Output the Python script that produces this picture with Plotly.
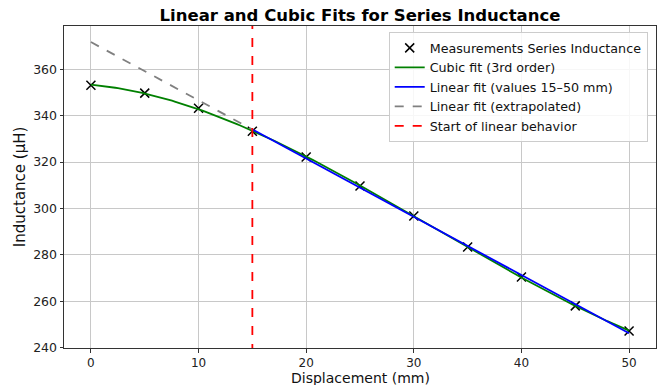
import numpy as np
import plotly.graph_objects as go

displacement = [0, 5, 10, 15, 20, 25, 30, 35, 40, 45, 50]
inductance = [353.1, 349.7, 343.2, 333.3, 322.2, 309.7, 296.8, 283.4, 270.5, 258.1, 247.3]
linear_start = 15

x = np.array(displacement, dtype=float)
y = np.array(inductance, dtype=float)

# cubic fit over all points
c3 = np.polyfit(x, y, 3)
xc = np.linspace(x.min(), x.max(), 200)
yc = np.polyval(c3, xc)

# linear fit on 15-50 mm
mask = x >= linear_start
c1 = np.polyfit(x[mask], y[mask], 1)
xl = np.linspace(linear_start, x.max(), 50)
yl = np.polyval(c1, xl)
xe = np.linspace(0, linear_start, 20)
ye = np.polyval(c1, xe)

font = "DejaVu Sans"
fig = go.Figure()
fig.add_trace(go.Scatter(x=displacement, y=inductance, mode="markers",
                         name="Measurements Series Inductance",
                         marker=dict(symbol="x-thin", size=9, color="black",
                                     line=dict(width=1.5, color="black"))))
fig.add_trace(go.Scatter(x=xc, y=yc, mode="lines", name="Cubic fit (3rd order)",
                         line=dict(color="green", width=1.8)))
fig.add_trace(go.Scatter(x=xl, y=yl, mode="lines", name="Linear fit (values 15–50 mm)",
                         line=dict(color="blue", width=1.8)))
fig.add_trace(go.Scatter(x=xe, y=ye, mode="lines", name="Linear fit (extrapolated)",
                         line=dict(color="gray", width=1.8, dash="dash")))
fig.add_trace(go.Scatter(x=[linear_start, linear_start], y=[230, 390], mode="lines",
                         name="Start of linear behavior",
                         line=dict(color="red", width=1.8, dash="dash")))

axis_common = dict(showline=True, linecolor="#333", linewidth=1, mirror=True,
                   showgrid=True, gridcolor="#c8c8c8", gridwidth=1,
                   ticks="outside", ticklen=3.5, tickcolor="#333",
                   tickfont=dict(family=font, size=12.5, color="#222"),
                   zeroline=False, automargin=False)

fig.update_layout(
    width=665, height=385,
    margin=dict(l=64, r=9, t=26, b=37),
    paper_bgcolor="white", plot_bgcolor="white",
    font=dict(family=font, color="#111"),
    title=dict(text="<b>Linear and Cubic Fits for Series Inductance</b>",
               x=(64 + 656) / 2 / 665, xanchor="center", y=1 - 15 / 385, yanchor="middle",
               font=dict(family=font, size=16.5, color="black")),
    xaxis=dict(range=[-2.5, 52.5], tickvals=[0, 10, 20, 30, 40, 50],
               tickfont=dict(family=font, size=12, color="#222"),
               **{k: v for k, v in axis_common.items() if k != "tickfont"}),
    yaxis=dict(range=[239.95, 378.6], tickvals=[240, 260, 280, 300, 320, 340, 360], **axis_common),
    legend=dict(x=0.986, y=0.981, xanchor="right", yanchor="top",
                bgcolor="rgba(255,255,255,0.85)", bordercolor="#ccc", borderwidth=1,
                font=dict(family=font, size=12.7, color="#111"),
                tracegroupgap=0, itemwidth=30),
    showlegend=True,
    annotations=[
        dict(text="Displacement (mm)", xref="paper", yref="paper", x=0.5, y=-0.092,
             yanchor="middle", xanchor="center", showarrow=False,
             font=dict(family=font, size=14, color="#111")),
        dict(text="Inductance (µH)", xref="paper", yref="paper", x=-0.074, y=0.5,
             xanchor="center", yanchor="middle", textangle=-90, showarrow=False,
             font=dict(family=font, size=15, color="#111")),
    ],
)

fig.write_html("out.html")
